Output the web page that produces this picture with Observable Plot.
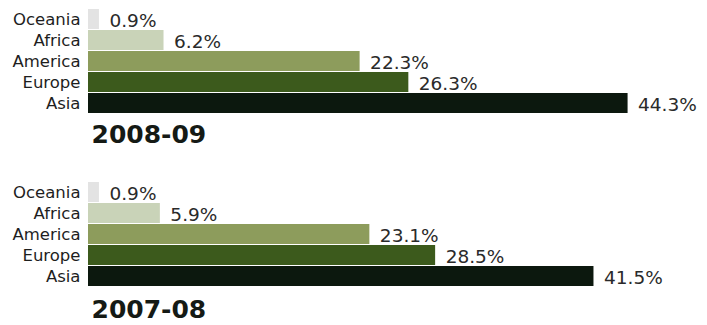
<!DOCTYPE html>
<html>
<head>
<meta charset="utf-8">
<script src="https://cdn.jsdelivr.net/npm/d3@7"></script>
<script src="https://cdn.jsdelivr.net/npm/@observablehq/plot@0.6"></script>
<style>
  html, body { margin: 0; padding: 0; background: #fff; }
  #chart { width: 707px; height: 325px; overflow: hidden; }
  #chart svg { display: block; }
</style>
</head>
<body>
<div id="chart"></div>
<script>
const regions = ["Oceania", "Africa", "America", "Europe", "Asia"];
const shares2008 = [0.9, 6.2, 22.3, 26.3, 44.3];
const shares2007 = [0.9, 5.9, 23.1, 28.5, 41.5];
const regionColors = ["#e3e3e3", "#c9d3b8", "#8d9c5c", "#3c5a1c", "#0c180e"];
const years = ["2008-09", "2007-08"];

function panel(year, shares, opts) {
  const data = regions.map((r, i) => ({region: r, share: shares[i]}));
  return Plot.plot({
    width: 707,
    height: opts.height,
    marginLeft: 88,
    marginRight: 10,
    marginTop: opts.marginTop,
    marginBottom: opts.marginBottom,
    style: {fontFamily: "'DejaVu Sans', sans-serif", background: "#fff", color: "#222", overflow: "visible"},
    x: {domain: [0, 50], axis: null},
    y: {domain: regions, padding: 0.07, label: null},
    color: {domain: regions, range: regionColors},
    marks: [
      Plot.barX(data, {y: "region", x: "share", fill: "region"}),
      Plot.text(data, {
        y: "region", x: "share", text: d => d.share.toFixed(1) + "%",
        textAnchor: "start", dx: 10, dy: 2, fontSize: 18.5, fill: "#2a2a2a"
      }),
      Plot.axisY({tickSize: 0, tickPadding: 8, fontSize: 16.5, fill: "#1e1e1e", label: null}),
      Plot.text([year], {
        text: d => d, frameAnchor: "bottom-left", textAnchor: "start",
        lineAnchor: "bottom", dx: 3, dy: opts.yearDy,
        fontSize: 25, fontWeight: "bold", fill: "#151a15"
      })
    ]
  });
}

const chart = document.getElementById("chart");
chart.append(panel(years[0], shares2008, {height: 165, marginTop: 5, marginBottom: 49, yearDy: 26}));
chart.append(panel(years[1], shares2007, {height: 160, marginTop: 14, marginBottom: 36, yearDy: 28}));
</script>
</body>
</html>
